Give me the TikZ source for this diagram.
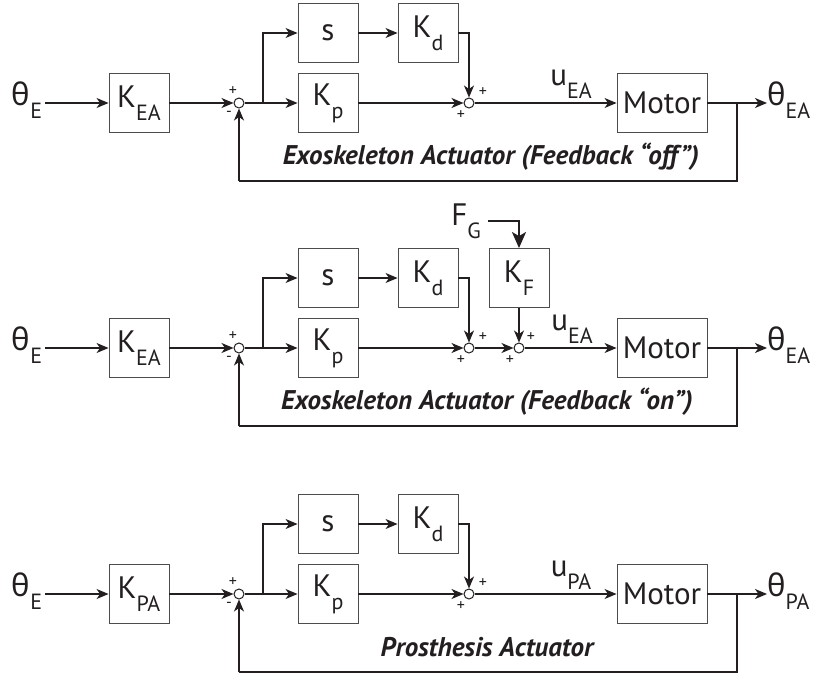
\documentclass[tikz,border=0pt]{standalone}
\usepackage{fontspec}
\setmainfont{PT Sans}
\newfontfamily\grk{Noto Sans}
\usetikzlibrary{arrows.meta}
\definecolor{ink}{HTML}{231F20}
\definecolor{boxc}{HTML}{4D4D4F}
\newcommand{\lo}[1]{\raisebox{-0.42em}{\fontsize{22}{22}\selectfont #1}}
\newcommand{\thetasym}{{\grk θ}}
\begin{document}
\begin{tikzpicture}[x=1pt,y=-1pt,
  font=\fontsize{31}{33}\selectfont,
  blk/.style={draw=boxc, line width=0.9pt, minimum width=60pt, minimum height=59pt, inner sep=0pt, text=ink},
  sumj/.style={circle, draw=ink, line width=1pt, minimum size=10pt, inner sep=0pt, fill=white},
  conn/.style={draw=ink, line width=1.2pt, -{Stealth[length=12pt,width=10pt,inset=3.5pt]}},
  bigconn/.style={draw=ink, line width=2pt, -{Stealth[length=16pt,width=14pt,inset=4pt]}},
  wire/.style={draw=ink, line width=1.2pt},
  sgn/.style={font=\fontsize{16}{16}\selectfont, inner sep=0pt, text=ink},
  lbl/.style={font=\fontsize{27}{30}\selectfont\bfseries\itshape, text=ink},
  sig/.style={inner sep=0pt, text=ink}]
\useasboundingbox (0,0) rectangle (815,675);

% ---------------- Diagram A ----------------
\node[sig] (aTE) at (27,100) {\thetasym\lo{E}};
\node[blk] (aKEA) at (139,103) {K\lo{EA}};
\node[sumj] (aS1) at (239,103) {};
\coordinate (aB) at (263,103);
\node[blk] (aS) at (328,33) {s};
\node[blk] (aKp) at (328,103) {K\lo{p}};
\node[blk] (aKd) at (428,33) {K\lo{d}};
\node[sumj] (aS2) at (469,103) {};
\node[blk, minimum width=90pt] (aM) at (662,103) {Motor};
\coordinate (aO) at (737,103);
\node[sig, anchor=west] (aTO) at (767,100) {\thetasym\lo{EA}};
\coordinate (aF) at (737,181);
\coordinate (aFL) at (239,181);
\node[sig] (aU) at (571,84) {u\lo{EA}};
\node[lbl] (aL) at (491,157) {Exoskeleton Actuator (Feedback “off”)};
\node[sgn] (ap1) at (233,91) {+};
\node[sgn] (am1) at (229,114) {-};
\node[sgn] (ap2) at (483,92) {+};
\node[sgn] (ap3) at (461,115) {+};
\draw[conn] (aTE.east |- aKEA.west) ++(3,0) -- (aKEA.west);
\draw[conn] (aKEA.east) -- (aS1.west);
\draw[wire] (aS1.east) -- (aB);
\draw[conn] (aB) -- (aKp.west);
\draw[conn] (aB) |- (aS.west);
\draw[conn] (aS.east) -- (aKd.west);
\draw[conn] (aKd.east) -| (aS2.north);
\draw[conn] (aKp.east) -- (aS2.west);
\draw[conn] (aS2.east) -- (aM.west);
\draw[conn] (aM.east) -- (aTO.west |- aM.east);
\draw[wire] (aO) -- (aF) -- (aFL);
\draw[conn] (aFL) -- (aS1.south);

% ---------------- Diagram B ----------------
\node[sig] (bTE) at (27,345) {\thetasym\lo{E}};
\node[blk] (bKEA) at (139,348) {K\lo{EA}};
\node[sumj] (bS1) at (239,348) {};
\coordinate (bB) at (263,348);
\node[blk] (bS) at (328,278) {s};
\node[blk] (bKp) at (328,348) {K\lo{p}};
\node[blk] (bKd) at (428,278) {K\lo{d}};
\node[sumj] (bS2) at (469,348) {};
\node[blk] (bKF) at (519,278) {K\lo{F}};
\node[sumj] (bS3) at (519,348) {};
\node[sig, anchor=east, inner xsep=7pt] (bFG) at (488,221) {F\lo{G}};
\node[blk, minimum width=90pt] (bM) at (662,348) {Motor};
\coordinate (bO) at (737,348);
\node[sig, anchor=west] (bTO) at (767,345) {\thetasym\lo{EA}};
\coordinate (bF) at (737,426);
\coordinate (bFL) at (239,426);
\node[sig] (bU) at (572,329) {u\lo{EA}};
\node[lbl] (bL) at (487,402) {Exoskeleton Actuator (Feedback “on”)};
\node[sgn] (bp1) at (233,336) {+};
\node[sgn] (bm1) at (229,359) {-};
\node[sgn] (bp2) at (483,337) {+};
\node[sgn] (bp3) at (461,360) {+};
\node[sgn] (bp4) at (531,337) {+};
\node[sgn] (bp5) at (510,360) {+};
\draw[conn] (bTE.east |- bKEA.west) ++(3,0) -- (bKEA.west);
\draw[conn] (bKEA.east) -- (bS1.west);
\draw[wire] (bS1.east) -- (bB);
\draw[conn] (bB) -- (bKp.west);
\draw[conn] (bB) |- (bS.west);
\draw[conn] (bS.east) -- (bKd.west);
\draw[conn] (bKd.east) -| (bS2.north);
\draw[conn] (bKp.east) -- (bS2.west);
\draw[conn] (bS2.east) -- (bS3.west);
\draw[bigconn] (bFG.east) -| (bKF.north);
\draw[conn] (bKF.south) -- (bS3.north);
\draw[conn] (bS3.east) -- (bM.west);
\draw[conn] (bM.east) -- (bTO.west |- bM.east);
\draw[wire] (bO) -- (bF) -- (bFL);
\draw[conn] (bFL) -- (bS1.south);

% ---------------- Diagram C ----------------
\node[sig] (cTE) at (27,591) {\thetasym\lo{E}};
\node[blk] (cKPA) at (139,594) {K\lo{PA}};
\node[sumj] (cS1) at (239,594) {};
\coordinate (cB) at (263,594);
\node[blk] (cS) at (328,524) {s};
\node[blk] (cKp) at (328,594) {K\lo{p}};
\node[blk] (cKd) at (428,524) {K\lo{d}};
\node[sumj] (cS2) at (469,594) {};
\node[blk, minimum width=90pt] (cM) at (662,594) {Motor};
\coordinate (cO) at (737,594);
\node[sig, anchor=west] (cTO) at (767,591) {\thetasym\lo{PA}};
\coordinate (cF) at (737,672);
\coordinate (cFL) at (239,672);
\node[sig] (cU) at (571,575) {u\lo{PA}};
\node[lbl] (cL) at (487,647) {Prosthesis Actuator};
\node[sgn] (cp1) at (233,582) {+};
\node[sgn] (cm1) at (229,605) {-};
\node[sgn] (cp2) at (483,583) {+};
\node[sgn] (cp3) at (461,606) {+};
\draw[conn] (cTE.east |- cKPA.west) ++(3,0) -- (cKPA.west);
\draw[conn] (cKPA.east) -- (cS1.west);
\draw[wire] (cS1.east) -- (cB);
\draw[conn] (cB) -- (cKp.west);
\draw[conn] (cB) |- (cS.west);
\draw[conn] (cS.east) -- (cKd.west);
\draw[conn] (cKd.east) -| (cS2.north);
\draw[conn] (cKp.east) -- (cS2.west);
\draw[conn] (cS2.east) -- (cM.west);
\draw[conn] (cM.east) -- (cTO.west |- cM.east);
\draw[wire] (cO) -- (cF) -- (cFL);
\draw[conn] (cFL) -- (cS1.south);
\end{tikzpicture}
\end{document}
